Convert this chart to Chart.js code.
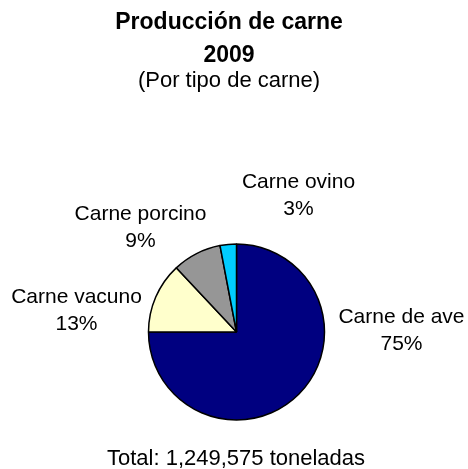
<!DOCTYPE html>
<html>
<head>
<meta charset="utf-8">
<script src="https://cdn.jsdelivr.net/npm/chart.js@4"></script>
<style>
  html, body { margin: 0; padding: 0; background: #fff; }
  #c { display: block; }
</style>
</head>
<body>
<canvas id="c" width="468" height="469"></canvas>
<script>
// ---- data ----
const titleLines = ["Producción de carne", "2009"];
const subtitleText = "(Por tipo de carne)";
const footerText = "Total: 1,249,575 toneladas";
const categories = ["Carne de ave", "Carne vacuno", "Carne porcino", "Carne ovino"];
const shares = [75, 13, 9, 3];          // % of total tonnage
const sliceColors = ["#000080", "#FFFFCC", "#969696", "#00CCFF"];

const FONT = '"Liberation Sans", Arial, sans-serif';

// outside labels: anchor of the first line, offset from the pie centre (Excel "best fit" spots)
const labelOffsets = [[165, -9], [-160, -29], [-96, -112], [62, -144]];

const textPlugin = {
  id: "excelText",
  afterDraw(chart) {
    const ctx = chart.ctx;
    const arcs = chart.getDatasetMeta(0).data;
    const cx = arcs[0].x, cy = arcs[0].y;
    ctx.save();
    ctx.fillStyle = "#000";
    ctx.textAlign = "center";
    ctx.textBaseline = "alphabetic";

    // title block
    ctx.font = "bold 23px " + FONT;
    ctx.fillText(titleLines[0], 229, 29);
    ctx.fillText(titleLines[1], 229, 62);
    ctx.font = "22px " + FONT;
    ctx.fillText(subtitleText, 229, 87);

    // slice labels
    ctx.font = "21px " + FONT;
    categories.forEach((name, i) => {
      const [dx, dy] = labelOffsets[i];
      ctx.fillText(name, cx + dx, cy + dy);
      ctx.fillText(shares[i] + "%", cx + dx, cy + dy + 27);
    });

    // footer
    ctx.font = "22px " + FONT;
    ctx.fillText(footerText, 236, 465);
    ctx.restore();
  },
};

new Chart(document.getElementById("c"), {
  type: "pie",
  data: {
    labels: categories,
    datasets: [{
      data: shares,
      backgroundColor: sliceColors,
      borderColor: "#000",
      borderWidth: 1.5,
      radius: 88,
    }],
  },
  options: {
    responsive: false,
    devicePixelRatio: 1,
    animation: false,
    layout: { padding: { top: 235, bottom: 40, left: 100, right: 95 } },
    plugins: { legend: { display: false }, tooltip: { enabled: false } },
  },
  plugins: [textPlugin],
});
</script>
</body>
</html>
